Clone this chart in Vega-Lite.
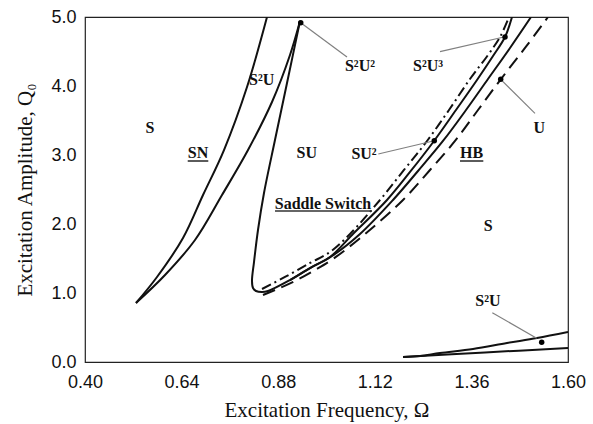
{
  "$schema": "https://vega.github.io/schema/vega-lite/v6.json",
  "width": 483,
  "height": 345,
  "autosize": {"type": "none"},
  "padding": {"left": 85, "top": 17, "right": 25, "bottom": 62},
  "background": "white",
  "config": {
    "view": {"stroke": "#222", "strokeWidth": 1.2},
    "axis": {"grid": false, "domain": false, "ticks": false, "labelColor": "#111", "titleColor": "#111", "labelFont": "Liberation Sans", "labelFontSize": 18, "titleFont": "Liberation Serif", "titleFontSize": 21, "titleFontWeight": "normal", "labelFlush": false, "labelOverlap": false}
  },
  "datasets": {
    "curves": [
      {"c": "SN_L", "i": 0, "w": 0.5267, "q": 0.855},
      {"c": "SN_L", "i": 1, "w": 0.5789, "q": 1.232},
      {"c": "SN_L", "i": 2, "w": 0.6435, "q": 1.797},
      {"c": "SN_L", "i": 3, "w": 0.6932, "q": 2.42},
      {"c": "SN_L", "i": 4, "w": 0.7453, "q": 3.072},
      {"c": "SN_L", "i": 5, "w": 0.8025, "q": 3.986},
      {"c": "SN_L", "i": 6, "w": 0.8522, "q": 5.0},
      {"c": "SN_R", "i": 0, "w": 0.5267, "q": 0.855},
      {"c": "SN_R", "i": 1, "w": 0.5988, "q": 1.261},
      {"c": "SN_R", "i": 2, "w": 0.6733, "q": 1.768},
      {"c": "SN_R", "i": 3, "w": 0.7404, "q": 2.42},
      {"c": "SN_R", "i": 4, "w": 0.805, "q": 3.072},
      {"c": "SN_R", "i": 5, "w": 0.8646, "q": 3.768},
      {"c": "SN_R", "i": 6, "w": 0.9093, "q": 4.449},
      {"c": "SN_R", "i": 7, "w": 0.9342, "q": 4.942},
      {"c": "SS", "i": 0, "w": 0.9342, "q": 4.942},
      {"c": "SS", "i": 1, "w": 0.9019, "q": 4.043},
      {"c": "SS", "i": 2, "w": 0.872, "q": 3.217},
      {"c": "SS", "i": 3, "w": 0.8447, "q": 2.449},
      {"c": "SS", "i": 4, "w": 0.8298, "q": 1.913},
      {"c": "SS", "i": 5, "w": 0.8199, "q": 1.449},
      {"c": "SS", "i": 6, "w": 0.8149, "q": 1.174},
      {"c": "SS", "i": 7, "w": 0.8174, "q": 1.072},
      {"c": "SS", "i": 8, "w": 0.8248, "q": 1.029},
      {"c": "SS", "i": 9, "w": 0.8398, "q": 1.014},
      {"c": "SS", "i": 10, "w": 0.8547, "q": 1.029},
      {"c": "SS", "i": 11, "w": 0.9093, "q": 1.188},
      {"c": "SS", "i": 12, "w": 0.959, "q": 1.362},
      {"c": "SS", "i": 13, "w": 1.0087, "q": 1.522},
      {"c": "SS", "i": 14, "w": 1.0634, "q": 1.841},
      {"c": "SS", "i": 15, "w": 1.1503, "q": 2.348},
      {"c": "SS", "i": 16, "w": 1.2075, "q": 2.754},
      {"c": "SS", "i": 17, "w": 1.2671, "q": 3.203},
      {"c": "SS", "i": 18, "w": 1.3217, "q": 3.652},
      {"c": "SS", "i": 19, "w": 1.3739, "q": 4.087},
      {"c": "SS", "i": 20, "w": 1.4137, "q": 4.435},
      {"c": "SS", "i": 21, "w": 1.4435, "q": 4.71},
      {"c": "SS", "i": 22, "w": 1.4609, "q": 5.0},
      {"c": "S2", "i": 0, "w": 0.9093, "q": 1.188},
      {"c": "S2", "i": 1, "w": 0.959, "q": 1.362},
      {"c": "S2", "i": 2, "w": 1.0137, "q": 1.536},
      {"c": "S2", "i": 3, "w": 1.0832, "q": 1.855},
      {"c": "S2", "i": 4, "w": 1.1652, "q": 2.348},
      {"c": "S2", "i": 5, "w": 1.2273, "q": 2.768},
      {"c": "S2", "i": 6, "w": 1.2894, "q": 3.203},
      {"c": "S2", "i": 7, "w": 1.3466, "q": 3.652},
      {"c": "S2", "i": 8, "w": 1.4012, "q": 4.101},
      {"c": "S2", "i": 9, "w": 1.4559, "q": 4.551},
      {"c": "S2", "i": 10, "w": 1.5081, "q": 5.0},
      {"c": "DD", "i": 0, "w": 0.8398, "q": 1.058},
      {"c": "DD", "i": 1, "w": 0.8969, "q": 1.232},
      {"c": "DD", "i": 2, "w": 0.959, "q": 1.435},
      {"c": "DD", "i": 3, "w": 1.0087, "q": 1.594},
      {"c": "DD", "i": 4, "w": 1.0584, "q": 1.855},
      {"c": "DD", "i": 5, "w": 1.1329, "q": 2.348},
      {"c": "DD", "i": 6, "w": 1.1925, "q": 2.783},
      {"c": "DD", "i": 7, "w": 1.2497, "q": 3.203},
      {"c": "DD", "i": 8, "w": 1.3043, "q": 3.652},
      {"c": "DD", "i": 9, "w": 1.3565, "q": 4.101},
      {"c": "DD", "i": 10, "w": 1.4012, "q": 4.449},
      {"c": "DD", "i": 11, "w": 1.4311, "q": 4.71},
      {"c": "DD", "i": 12, "w": 1.4534, "q": 5.0},
      {"c": "HBd", "i": 0, "w": 0.8422, "q": 0.971},
      {"c": "HBd", "i": 1, "w": 0.872, "q": 1.043},
      {"c": "HBd", "i": 2, "w": 0.9217, "q": 1.174},
      {"c": "HBd", "i": 3, "w": 0.9714, "q": 1.333},
      {"c": "HBd", "i": 4, "w": 1.0161, "q": 1.493},
      {"c": "HBd", "i": 5, "w": 1.0957, "q": 1.855},
      {"c": "HBd", "i": 6, "w": 1.1901, "q": 2.348},
      {"c": "HBd", "i": 7, "w": 1.2571, "q": 2.783},
      {"c": "HBd", "i": 8, "w": 1.3193, "q": 3.203},
      {"c": "HBd", "i": 9, "w": 1.3764, "q": 3.652},
      {"c": "HBd", "i": 10, "w": 1.4335, "q": 4.101},
      {"c": "HBd", "i": 11, "w": 1.4932, "q": 4.551},
      {"c": "HBd", "i": 12, "w": 1.5503, "q": 5.0},
      {"c": "LowU", "i": 0, "w": 1.1901, "q": 0.072},
      {"c": "LowU", "i": 1, "w": 1.2323, "q": 0.087},
      {"c": "LowU", "i": 2, "w": 1.282, "q": 0.13},
      {"c": "LowU", "i": 3, "w": 1.364, "q": 0.188},
      {"c": "LowU", "i": 4, "w": 1.4484, "q": 0.275},
      {"c": "LowU", "i": 5, "w": 1.523, "q": 0.348},
      {"c": "LowU", "i": 6, "w": 1.6, "q": 0.435},
      {"c": "LowL", "i": 0, "w": 1.1901, "q": 0.072},
      {"c": "LowL", "i": 1, "w": 1.3938, "q": 0.138},
      {"c": "LowL", "i": 2, "w": 1.6, "q": 0.203}
    ],
    "leaders": [
      {"w": 0.936, "q": 4.917, "w2": 1.0509, "q2": 4.42},
      {"w": 1.282, "q": 4.497, "w2": 1.4435, "q2": 4.714},
      {"w": 1.518, "q": 3.604, "w2": 1.4328, "q2": 4.097},
      {"w": 1.1287, "q": 3.014, "w2": 1.2678, "q2": 3.207},
      {"w": 1.412, "q": 0.714, "w2": 1.5222, "q2": 0.343}
    ],
    "underlines": [
      {"w": 0.6552, "w2": 0.7063, "q": 2.913},
      {"w": 1.3317, "w2": 1.3896, "q": 2.913},
      {"w": 0.872, "w2": 1.113, "q": 2.188}
    ],
    "dots": [
      {"w": 0.936, "q": 4.917},
      {"w": 1.4435, "q": 4.71},
      {"w": 1.4328, "q": 4.097},
      {"w": 1.2678, "q": 3.207},
      {"w": 1.5346, "q": 0.285}
    ],
    "labels": [
      {"t": "S", "w": 0.5615, "q": 3.391},
      {"t": "SN", "w": 0.6807, "q": 3.029},
      {"t": "S²U", "w": 0.839, "q": 4.087},
      {"t": "SU", "w": 0.9508, "q": 3.029},
      {"t": "S²U²", "w": 1.0832, "q": 4.29},
      {"t": "S²U³", "w": 1.2522, "q": 4.29},
      {"t": "U", "w": 1.5287, "q": 3.391},
      {"t": "SU²", "w": 1.0932, "q": 3.014},
      {"t": "HB", "w": 1.3607, "q": 3.029},
      {"t": "Saddle Switch", "w": 0.9913, "q": 2.29},
      {"t": "S", "w": 1.402, "q": 1.975},
      {"t": "S²U", "w": 1.4012, "q": 0.884}
    ],
    "xminor": [
      {"w": 0.42}, {"w": 0.44}, {"w": 0.46}, {"w": 0.48}, {"w": 0.50}, {"w": 0.52}, {"w": 0.54}, {"w": 0.56}, {"w": 0.58}, {"w": 0.60}, {"w": 0.62},
      {"w": 0.66}, {"w": 0.68}, {"w": 0.70}, {"w": 0.72}, {"w": 0.74}, {"w": 0.76}, {"w": 0.78}, {"w": 0.80}, {"w": 0.82}, {"w": 0.84}, {"w": 0.86},
      {"w": 0.90}, {"w": 0.92}, {"w": 0.94}, {"w": 0.96}, {"w": 0.98}, {"w": 1.00}, {"w": 1.02}, {"w": 1.04}, {"w": 1.06}, {"w": 1.08}, {"w": 1.10},
      {"w": 1.14}, {"w": 1.16}, {"w": 1.18}, {"w": 1.20}, {"w": 1.22}, {"w": 1.24}, {"w": 1.26}, {"w": 1.28}, {"w": 1.30}, {"w": 1.32}, {"w": 1.34},
      {"w": 1.38}, {"w": 1.40}, {"w": 1.42}, {"w": 1.44}, {"w": 1.46}, {"w": 1.48}, {"w": 1.50}, {"w": 1.52}, {"w": 1.54}, {"w": 1.56}, {"w": 1.58}
    ],
    "xmajor": [
      {"w": 0.64}, {"w": 0.88}, {"w": 1.12}, {"w": 1.36}
    ],
    "yminor": [
      {"q": 0.1}, {"q": 0.2}, {"q": 0.3}, {"q": 0.4}, {"q": 0.5}, {"q": 0.6}, {"q": 0.7}, {"q": 0.8}, {"q": 0.9},
      {"q": 1.1}, {"q": 1.2}, {"q": 1.3}, {"q": 1.4}, {"q": 1.5}, {"q": 1.6}, {"q": 1.7}, {"q": 1.8}, {"q": 1.9},
      {"q": 2.1}, {"q": 2.2}, {"q": 2.3}, {"q": 2.4}, {"q": 2.5}, {"q": 2.6}, {"q": 2.7}, {"q": 2.8}, {"q": 2.9},
      {"q": 3.1}, {"q": 3.2}, {"q": 3.3}, {"q": 3.4}, {"q": 3.5}, {"q": 3.6}, {"q": 3.7}, {"q": 3.8}, {"q": 3.9},
      {"q": 4.1}, {"q": 4.2}, {"q": 4.3}, {"q": 4.4}, {"q": 4.5}, {"q": 4.6}, {"q": 4.7}, {"q": 4.8}, {"q": 4.9}
    ],
    "ymajor": [
      {"q": 1}, {"q": 2}, {"q": 3}, {"q": 4}
    ]
  },
  "encoding": {
    "x": {"field": "w", "type": "quantitative", "scale": {"domain": [0.4, 1.6], "nice": false, "zero": false},
      "axis": {
        "title": "Excitation Frequency, Ω",
        "values": [0.40, 0.64, 0.88, 1.12, 1.36, 1.60],
        "format": ".2f",
        "labelPadding": 11,
        "titlePadding": 8
      }},
    "y": {"field": "q", "type": "quantitative", "scale": {"domain": [0, 5], "nice": false},
      "axis": {
        "title": "Excitation Amplitude, Q₀",
        "values": [0, 1, 2, 3, 4, 5],
        "format": ".1f",
        "labelPadding": 9,
        "titlePadding": 15
      }}
  },
  "layer": [
    {
      "data": {"name": "xminor"},
      "mark": {"type": "rule", "color": "#222", "strokeWidth": 1},
      "encoding": {"y": {"datum": 0}, "y2": {"datum": 0.058}}
    },
    {
      "data": {"name": "xmajor"},
      "mark": {"type": "rule", "color": "#222", "strokeWidth": 1},
      "encoding": {"y": {"datum": 0}, "y2": {"datum": 0.12}}
    },
    {
      "data": {"name": "yminor"},
      "mark": {"type": "rule", "color": "#222", "strokeWidth": 1},
      "encoding": {"x": {"datum": 0.4}, "x2": {"datum": 0.4087}}
    },
    {
      "data": {"name": "ymajor"},
      "mark": {"type": "rule", "color": "#222", "strokeWidth": 1},
      "encoding": {"x": {"datum": 0.4}, "x2": {"datum": 0.4174}}
    },
    {
      "data": {"name": "curves"},
      "transform": [{"filter": "datum.c !== 'DD' && datum.c !== 'HBd'"}],
      "mark": {"type": "line", "color": "#111", "strokeWidth": 2, "clip": true, "interpolate": "catmull-rom"},
      "encoding": {
        "detail": {"field": "c"},
        "order": {"field": "i", "type": "quantitative"}
      }
    },
    {
      "data": {"name": "curves"},
      "transform": [{"filter": "datum.c === 'DD'"}],
      "mark": {"type": "line", "color": "#111", "strokeWidth": 2, "strokeDash": [10, 4, 2, 4], "clip": true, "interpolate": "catmull-rom"},
      "encoding": {
        "order": {"field": "i", "type": "quantitative"}
      }
    },
    {
      "data": {"name": "curves"},
      "transform": [{"filter": "datum.c === 'HBd'"}],
      "mark": {"type": "line", "color": "#111", "strokeWidth": 2, "strokeDash": [13, 7], "clip": true, "interpolate": "catmull-rom"},
      "encoding": {
        "order": {"field": "i", "type": "quantitative"}
      }
    },
    {
      "data": {"name": "leaders"},
      "mark": {"type": "rule", "color": "#808080", "strokeWidth": 1.2},
      "encoding": {
        "x2": {"field": "w2"},
        "y2": {"field": "q2"}
      }
    },
    {
      "data": {"name": "underlines"},
      "mark": {"type": "rule", "color": "#333", "strokeWidth": 1.6},
      "encoding": {
        "x2": {"field": "w2"}
      }
    },
    {
      "data": {"name": "dots"},
      "mark": {"type": "point", "filled": true, "color": "#000", "size": 30, "opacity": 1},
      "encoding": {}
    },
    {
      "data": {"name": "labels"},
      "mark": {"type": "text", "font": "Liberation Serif", "fontSize": 16, "fontWeight": "bold", "color": "#111", "align": "center", "baseline": "middle"},
      "encoding": {
        "text": {"field": "t"}
      }
    }
  ]
}
